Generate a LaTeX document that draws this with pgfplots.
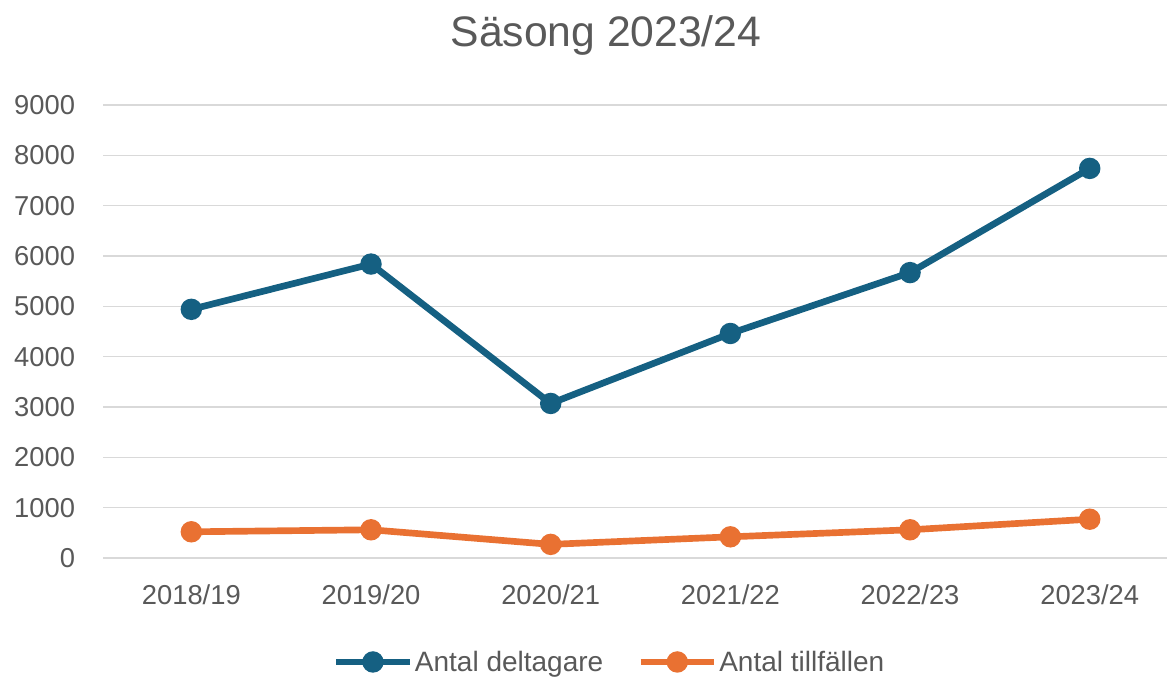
\documentclass[border=0pt]{standalone}
\usepackage{fontspec}
\setmainfont{Liberation Sans}
\usepackage{pgfplots}
\pgfplotsset{compat=1.18}
\definecolor{cblue}{HTML}{156082}
\definecolor{corange}{HTML}{E97132}
\definecolor{ctext}{HTML}{595959}
\definecolor{cgrid}{HTML}{D9D9D9}
\begin{document}
\begin{tikzpicture}
\begin{axis}[
  scale only axis, width=797.8pt, height=339.75pt,
  xmin=-0.49, xmax=5.43, ymin=0, ymax=9000,
  xtick={0,1,2,3,4,5},
  xticklabels={2018/19,2019/20,2020/21,2021/22,2022/23,2023/24},
  ytick={0,1000,2000,3000,4000,5000,6000,7000,8000,9000},
  axis line style={draw=none},
  major tick length=0pt,
  ymajorgrids, grid style={cgrid, line width=1.1pt},
  tick label style={font=\fontsize{20.5}{24}\selectfont, text=ctext},
  /pgf/number format/assume math mode=true,
  scaled y ticks=false,
  yticklabel style={/pgf/number format/set thousands separator={}, anchor=east, inner sep=0pt, xshift=-21pt},
  xticklabel style={anchor=north, inner sep=0pt, yshift=-20pt},
  clip=false,
  legend columns=2,
  legend style={at={(rel axis cs:0.476,-0.2296)}, anchor=center, draw=none, fill=none,
    font=\fontsize{21}{24}\selectfont, text=ctext, inner sep=0pt,
    nodes={inner sep=1.5pt},
    /tikz/every even column/.append style={column sep=24pt}},
  legend image code/.code={\draw[#1, mark repeat=2, mark phase=2] plot coordinates {(0pt,0pt)(27.5pt,0pt)(55pt,0pt)};},
]
\addplot[cblue, line width=5pt, mark=*, mark size=5.5pt] coordinates {
  (0,4940) (1,5840) (2,3070) (3,4460) (4,5670) (5,7740)};
\addlegendentry{Antal deltagare}
\addplot[corange, line width=5pt, mark=*, mark size=5.5pt] coordinates {
  (0,520) (1,560) (2,270) (3,420) (4,560) (5,770)};
\addlegendentry{Antal tillfällen}
\node[font=\fontsize{32}{36}\selectfont, text=ctext] at (rel axis cs:0.4726,1) [yshift=52.5pt] {Säsong 2023/24};
\coordinate (bbsw) at (rel axis cs:-0.0971,-0.2627);
\coordinate (bbne) at (rel axis cs:1,1.2318);
\end{axis}
\pgfresetboundingbox
\useasboundingbox (bbsw) rectangle (bbne);
\end{tikzpicture}
\end{document}
